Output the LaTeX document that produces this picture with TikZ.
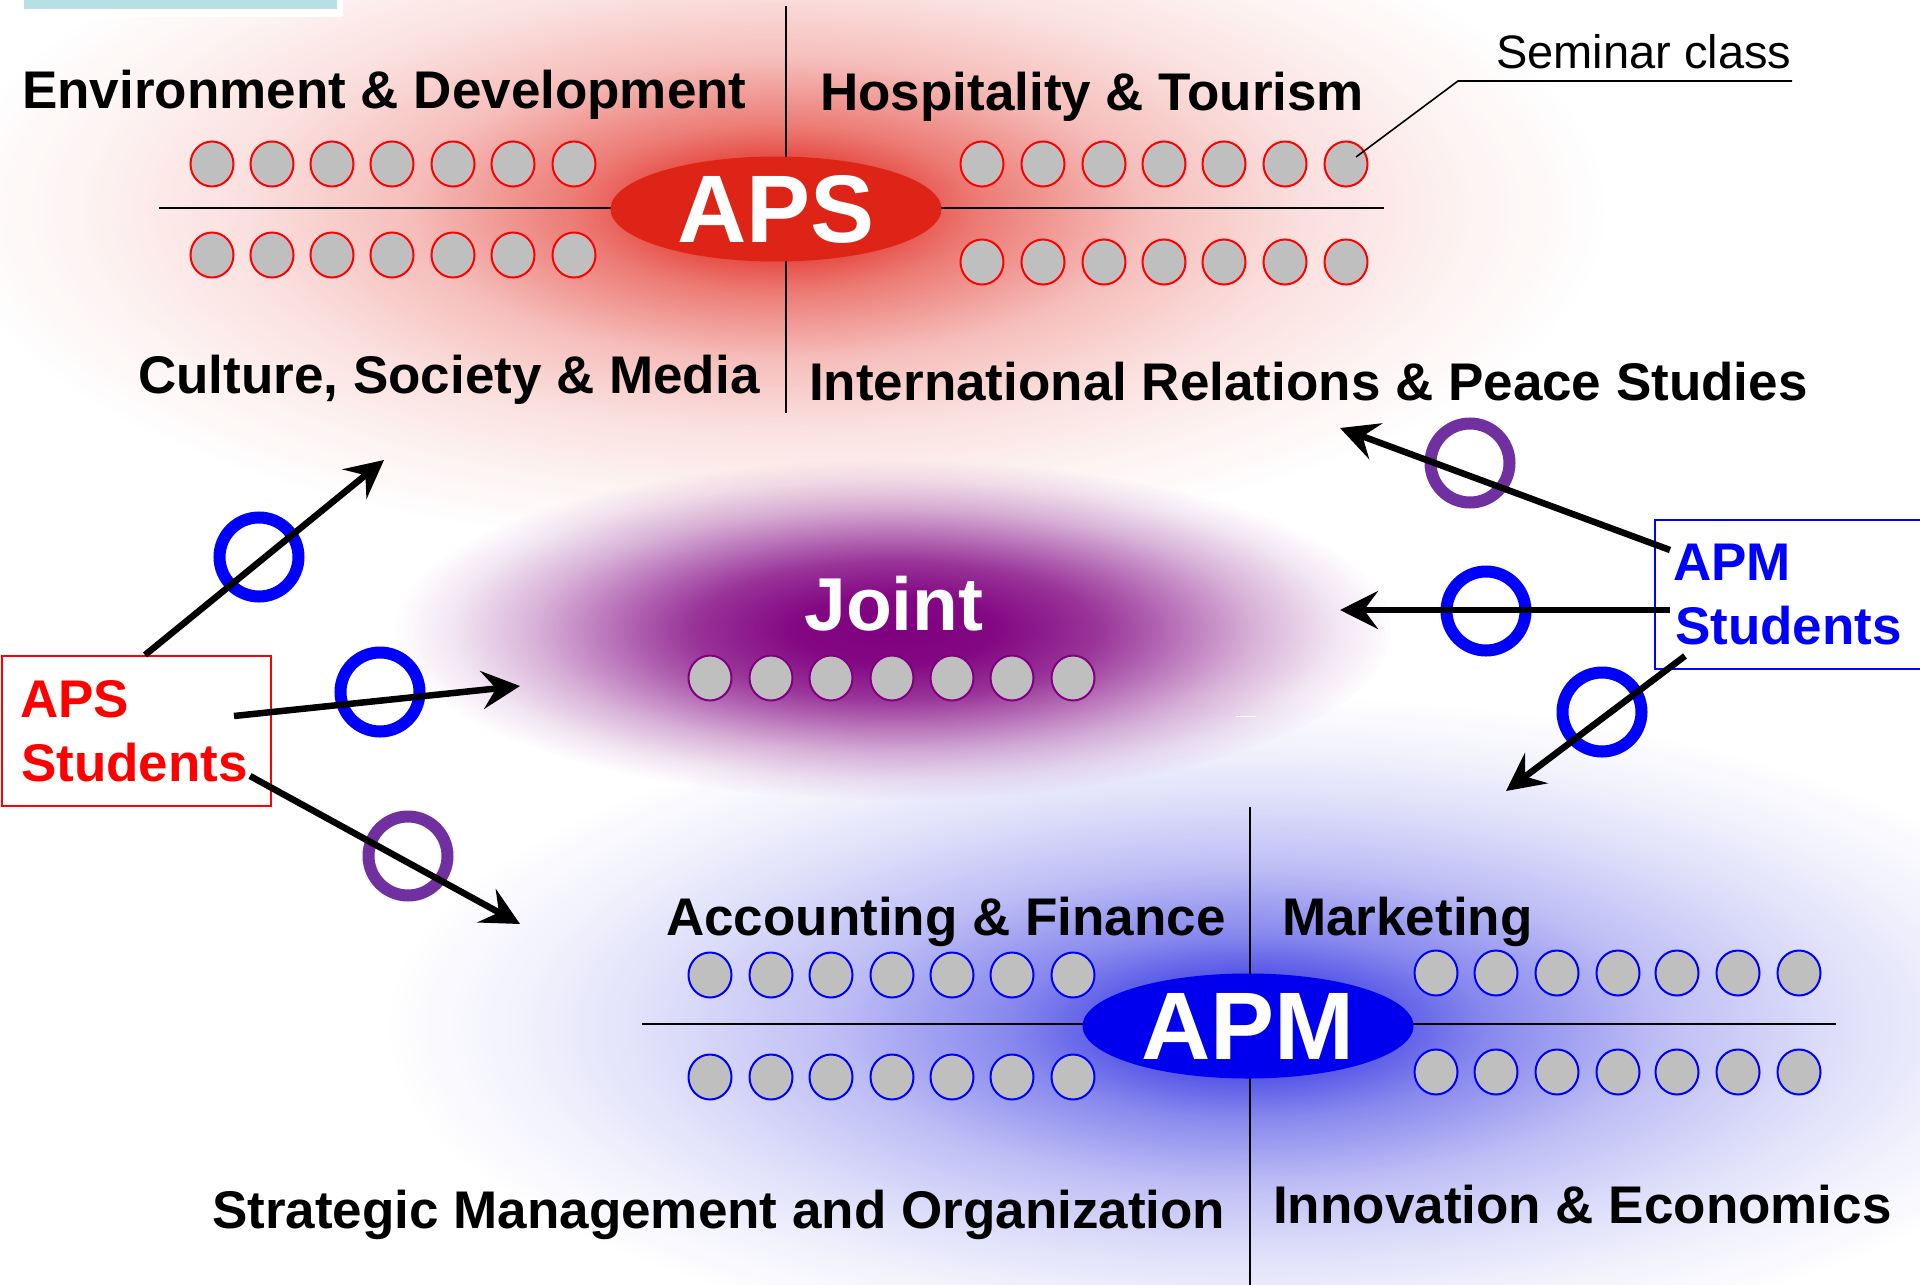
\documentclass[tikz,border=0pt]{standalone}
\usepackage{fontspec}
\setmainfont{Liberation Sans}
\usetikzlibrary{arrows.meta,shapes.geometric,fadings}

\definecolor{apsred}{RGB}{222,36,22}
\definecolor{glowred}{RGB}{225,40,30}
\definecolor{jointpurple}{RGB}{128,0,128}
\definecolor{apmblue}{RGB}{0,0,238}
\definecolor{glowblue}{RGB}{40,40,225}
\definecolor{seatgray}{RGB}{191,191,191}
\definecolor{ringpurple}{RGB}{112,48,160}
\definecolor{barcyan}{RGB}{183,224,228}

\pgfdeclareradialshading{glowshA}{\pgfpointorigin}{color(0bp)=(pgftransparent!0); color(3bp)=(pgftransparent!10); color(6bp)=(pgftransparent!38); color(11bp)=(pgftransparent!70); color(16bp)=(pgftransparent!86); color(21bp)=(pgftransparent!95); color(25bp)=(pgftransparent!100); color(50bp)=(pgftransparent!100)}
\pgfdeclareradialshading{glowshB}{\pgfpointorigin}{color(0bp)=(pgftransparent!0); color(5bp)=(pgftransparent!3); color(10bp)=(pgftransparent!20); color(13bp)=(pgftransparent!38); color(18bp)=(pgftransparent!70); color(22bp)=(pgftransparent!90); color(25bp)=(pgftransparent!100); color(50bp)=(pgftransparent!100)}
\pgfdeclareradialshading{glowshC}{\pgfpointorigin}{color(0bp)=(pgftransparent!0); color(3bp)=(pgftransparent!15); color(7bp)=(pgftransparent!45); color(12bp)=(pgftransparent!70); color(17bp)=(pgftransparent!85); color(21bp)=(pgftransparent!94); color(25bp)=(pgftransparent!100); color(50bp)=(pgftransparent!100)}
\pgfdeclarefading{glowfadeA}{\pgfuseshading{glowshA}}
\pgfdeclarefading{glowfadeB}{\pgfuseshading{glowshB}}
\pgfdeclarefading{glowfadeC}{\pgfuseshading{glowshC}}

\tikzset{
  lab/.style={font=\fontsize{53}{60}\selectfont\bfseries, inner sep=0pt, anchor=base west},
  stud/.style={font=\fontsize{53}{60}\selectfont\bfseries, text=#1, inner sep=0pt, anchor=base west},
  studbox/.style={draw=#1, line width=2pt, inner sep=0pt, anchor=north west},
  seat/.style={ellipse, draw=#1, fill=seatgray, line width=2pt, minimum width=43pt, minimum height=45pt, inner sep=0pt},
  ring/.style={circle, draw=#1, line width=12pt, minimum size=79pt, inner sep=0pt},
  arr/.style={line width=6.5pt, -{Stealth[length=38pt,width=38pt,inset=14pt]}},
  hub/.style={ellipse, fill=#1, minimum width=331pt, minimum height=105pt, inner sep=0pt, text=white, font=\fontsize{96}{100}\selectfont\bfseries},
  divider/.style={line width=2.2pt},
}

\begin{document}
\begin{tikzpicture}[x=1pt,y=-1pt]
\useasboundingbox (0,0) rectangle (1920,1285);
\begin{scope}
\clip (0,0) rectangle (1920,1285);
\fill[white] (0,0) rectangle (1920,1285);

% glows
\fill[glowred, path fading=glowfadeA] (776,209) ellipse [x radius=830pt, y radius=340pt];
\fill[glowblue, path fading=glowfadeC] (1248,1026) ellipse [x radius=860pt, y radius=330pt];
\fill[jointpurple, path fading=glowfadeB] (894,630) ellipse [x radius=500pt, y radius=170pt];

% top-left bar
\fill[white] (0,0) rectangle (343,17);
\fill[barcyan] (24,0) rectangle (337,9);

% dividers
\draw[divider] (159,208) -- (1384,208);
\draw[divider] (786,6) -- (786,413);
\draw[divider] (642,1024) -- (1836,1024);
\draw[divider] (1250,807) -- (1250,1290);
\draw[white, line width=1pt] (1236,716) -- (1256,716);

% hubs
\node[hub=apsred] (aps) at (776,209) {APS};
\node[hub=apmblue] (apm) at (1248,1026) {APM};

% seminar seats
\foreach \x [count=\i] in {212,272,332,392,453,513,574} {
  \node[seat=red] (apstl\i) at (\x,164) {};
  \node[seat=red] (apsbl\i) at (\x,255) {};
}
\foreach \x [count=\i] in {982,1043,1104,1164,1224,1285,1346} {
  \node[seat=red] (apstr\i) at (\x,164) {};
  \node[seat=red] (apsbr\i) at (\x,262) {};
}
\foreach \x [count=\i] in {710,771,831,892,952,1012,1073} {
  \node[seat=jointpurple] (jt\i) at (\x,678) {};
  \node[seat=blue] (apmtl\i) at (\x,975) {};
  \node[seat=blue] (apmbl\i) at (\x,1077) {};
}
\foreach \x [count=\i] in {1436,1496,1557,1618,1677,1738,1799} {
  \node[seat=blue] (apmtr\i) at (\x,973) {};
  \node[seat=blue] (apmbr\i) at (\x,1072) {};
}

% labels
\node[lab] (envdev) at (22,108) {Environment \& Development};
\node[lab] (hosp) at (820,110) {Hospitality \& Tourism};
\node[lab] (csm) at (138,393) {Culture, Society \& Media};
\node[lab] (irps) at (809,400) {International Relations \& Peace Studies};
\node[lab] (accfin) at (666,935) {Accounting \& Finance};
\node[lab] (mkt) at (1282,935) {Marketing};
\node[lab] (smo) at (212,1228) {Strategic Management and Organization};
\node[lab] (inno) at (1273,1223) {Innovation \& Economics};
\node[font=\fontsize{75}{80}\selectfont\bfseries, text=white, inner sep=0pt, anchor=base] (joint) at (894,630) {Joint};

% seminar class callout
\node[font=\fontsize{47}{52}\selectfont, inner sep=0pt, anchor=base west] (seminar) at (1496,68) {Seminar class};
\coordinate (semright) at (1792,81);
\coordinate (semleft) at (1458,81);
\coordinate (leadend) at (1356,157);
\draw[line width=1.6pt] (semright) -- (semleft) -- (leadend);

% student boxes
\node[studbox=red, minimum width=269pt, minimum height=150pt] (apsbox) at (1,655) {};
\node[stud=red] (apsA) at (20,717) {APS};
\node[stud=red] (apsB) at (21,781) {Students};
\node[studbox=blue, minimum width=272pt, minimum height=149pt] (apmbox) at (1654,519) {};
\node[stud=blue] (apmA) at (1673,580) {APM};
\node[stud=blue] (apmB) at (1675,644) {Students};

% rings
\node[ring=blue] (r1) at (259,557) {};
\node[ring=blue] (r2) at (380,692) {};
\node[ring=ringpurple] (r3) at (408,856) {};
\node[ring=ringpurple] (r4) at (1470,463) {};
\node[ring=blue] (r5) at (1486,611) {};
\node[ring=blue] (r6) at (1602,712) {};

% arrows
\coordinate (s1) at (145,655); \coordinate (e1) at (384,460);
\coordinate (s2) at (234,716); \coordinate (e2) at (520,686);
\coordinate (s3) at (250,776); \coordinate (e3) at (520,924);
\coordinate (s4) at (1670,550); \coordinate (e4) at (1340,428);
\coordinate (s5) at (1670,610); \coordinate (e5) at (1340,610);
\coordinate (s6) at (1685,656); \coordinate (e6) at (1506,791);
\draw[arr] (s1) -- (e1);
\draw[arr] (s2) -- (e2);
\draw[arr] (s3) -- (e3);
\draw[arr] (s4) -- (e4);
\draw[arr] (s5) -- (e5);
\draw[arr] (s6) -- (e6);
\end{scope}
\end{tikzpicture}
\end{document}
